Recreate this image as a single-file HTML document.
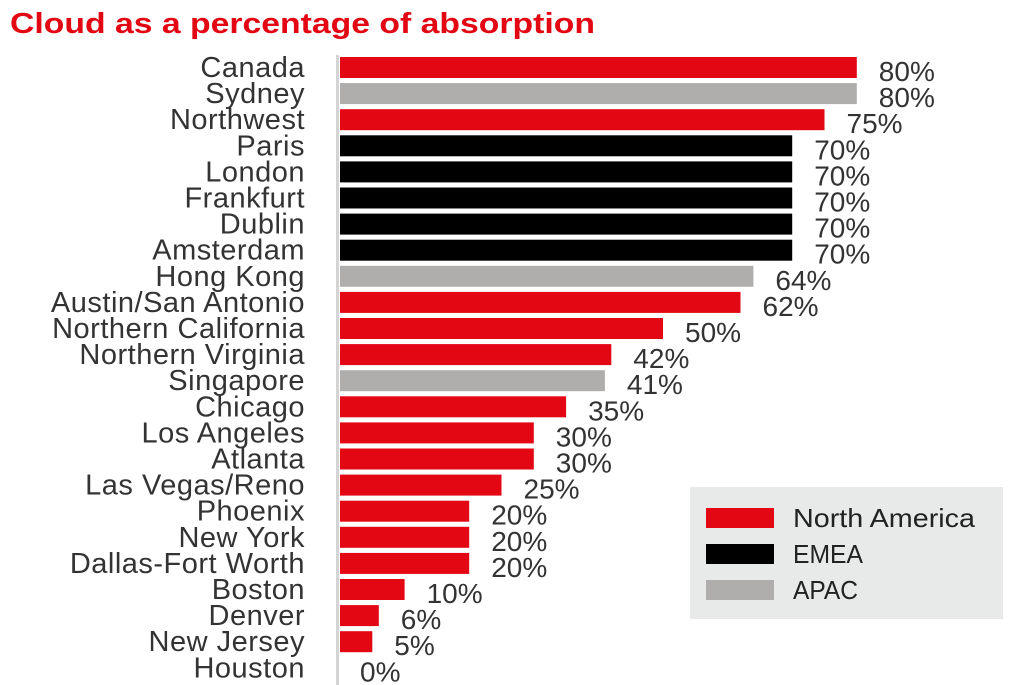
<!DOCTYPE html>
<html><head><style>body{margin:0;background:#fff}svg{display:block}</style></head><body>
<svg width="1010" height="685" xmlns="http://www.w3.org/2000/svg" font-family="Liberation Sans, sans-serif">
<text x="10" y="33" font-size="29" font-weight="bold" fill="#e30613" textLength="585" lengthAdjust="spacingAndGlyphs">Cloud as a percentage of absorption</text>
<rect x="336" y="55" width="3" height="630" fill="#d4d4d4"/>
<g>
<rect x="340" y="57" width="516.8" height="21" fill="#e30613"/>
<rect x="340" y="83.1" width="516.8" height="21" fill="#b0adad"/>
<rect x="340" y="109.2" width="484.5" height="21" fill="#e30613"/>
<rect x="340" y="135.3" width="452.2" height="21" fill="#000"/>
<rect x="340" y="161.4" width="452.2" height="21" fill="#000"/>
<rect x="340" y="187.5" width="452.2" height="21" fill="#000"/>
<rect x="340" y="213.6" width="452.2" height="21" fill="#000"/>
<rect x="340" y="239.7" width="452.2" height="21" fill="#000"/>
<rect x="340" y="265.8" width="413.4" height="21" fill="#b0adad"/>
<rect x="340" y="291.9" width="400.5" height="21" fill="#e30613"/>
<rect x="340" y="318" width="323" height="21" fill="#e30613"/>
<rect x="340" y="344.1" width="271.3" height="21" fill="#e30613"/>
<rect x="340" y="370.2" width="264.9" height="21" fill="#b0adad"/>
<rect x="340" y="396.3" width="226.1" height="21" fill="#e30613"/>
<rect x="340" y="422.4" width="193.8" height="21" fill="#e30613"/>
<rect x="340" y="448.5" width="193.8" height="21" fill="#e30613"/>
<rect x="340" y="474.6" width="161.5" height="21" fill="#e30613"/>
<rect x="340" y="500.7" width="129.2" height="21" fill="#e30613"/>
<rect x="340" y="526.8" width="129.2" height="21" fill="#e30613"/>
<rect x="340" y="552.9" width="129.2" height="21" fill="#e30613"/>
<rect x="340" y="579" width="64.6" height="21" fill="#e30613"/>
<rect x="340" y="605.1" width="38.8" height="21" fill="#e30613"/>
<rect x="340" y="631.2" width="32.3" height="21" fill="#e30613"/>
</g>
<g font-size="29" fill="#333" text-anchor="end" letter-spacing="0.5">
<text x="305" y="77">Canada</text>
<text x="305" y="103.1">Sydney</text>
<text x="305" y="129.2">Northwest</text>
<text x="305" y="155.3">Paris</text>
<text x="305" y="181.4">London</text>
<text x="305" y="207.5">Frankfurt</text>
<text x="305" y="233.6">Dublin</text>
<text x="305" y="259.7">Amsterdam</text>
<text x="305" y="285.8">Hong Kong</text>
<text x="305" y="311.9">Austin/San Antonio</text>
<text x="305" y="338">Northern California</text>
<text x="305" y="364.1">Northern Virginia</text>
<text x="305" y="390.2">Singapore</text>
<text x="305" y="416.3">Chicago</text>
<text x="305" y="442.4">Los Angeles</text>
<text x="305" y="468.5">Atlanta</text>
<text x="305" y="494.6">Las Vegas/Reno</text>
<text x="305" y="520.7">Phoenix</text>
<text x="305" y="546.8">New York</text>
<text x="305" y="572.9">Dallas-Fort Worth</text>
<text x="305" y="599">Boston</text>
<text x="305" y="625.1">Denver</text>
<text x="305" y="651.2">New Jersey</text>
<text x="305" y="677.3">Houston</text>
</g>
<g font-size="28" fill="#333">
<text x="878.8" y="81">80%</text>
<text x="878.8" y="107.1">80%</text>
<text x="846.5" y="133.2">75%</text>
<text x="814.2" y="159.3">70%</text>
<text x="814.2" y="185.4">70%</text>
<text x="814.2" y="211.5">70%</text>
<text x="814.2" y="237.6">70%</text>
<text x="814.2" y="263.7">70%</text>
<text x="775.4" y="289.8">64%</text>
<text x="762.5" y="315.9">62%</text>
<text x="685" y="342">50%</text>
<text x="633.3" y="368.1">42%</text>
<text x="626.9" y="394.2">41%</text>
<text x="588.1" y="420.3">35%</text>
<text x="555.8" y="446.4">30%</text>
<text x="555.8" y="472.5">30%</text>
<text x="523.5" y="498.6">25%</text>
<text x="491.2" y="524.7">20%</text>
<text x="491.2" y="550.8">20%</text>
<text x="491.2" y="576.9">20%</text>
<text x="426.6" y="603">10%</text>
<text x="400.8" y="629.1">6%</text>
<text x="394.3" y="655.2">5%</text>
<text x="360" y="681.3">0%</text>
</g>
<rect x="690" y="487" width="313" height="132" fill="#e8e9e9"/>
<rect x="706" y="508" width="68" height="20" fill="#e30613"/>
<rect x="706" y="544" width="68" height="20" fill="#000"/>
<rect x="706" y="580" width="68" height="20" fill="#b0adad"/>
<g font-size="26" fill="#222">
<text x="793" y="527" textLength="182" lengthAdjust="spacingAndGlyphs">North America</text>
<text x="793" y="563" textLength="70" lengthAdjust="spacingAndGlyphs">EMEA</text>
<text x="793" y="599" textLength="65" lengthAdjust="spacingAndGlyphs">APAC</text>
</g>
</svg>
</body></html>
